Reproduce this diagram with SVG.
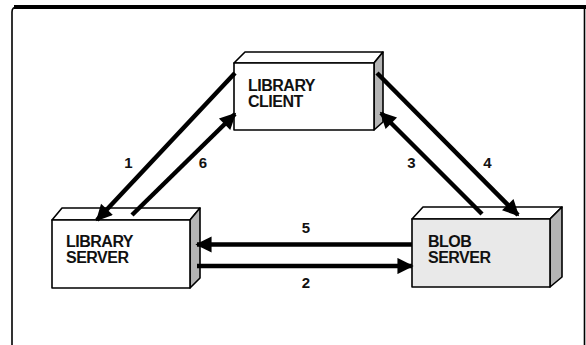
<svg xmlns="http://www.w3.org/2000/svg" width="586" height="345" viewBox="0 0 586 345">
  <style>
    .frame { fill: none; stroke: #000; }
    .face { stroke: #000; stroke-width: 1.6; stroke-linejoin: round; }
    .front { fill: #fff; }
    .front-dot { fill: #e9e9e9; }
    .top { fill: #fff; }
    .side { fill: #b4b4b4; }
    .name { font-family: "Liberation Sans", Arial, sans-serif; font-weight: bold; font-size: 16px; letter-spacing: -0.5px; fill: #111; }
    .num { font-family: "Liberation Sans", Arial, sans-serif; font-weight: bold; font-size: 15px; fill: #111; text-anchor: middle; }
    .wire { stroke: #000; stroke-width: 4.5; fill: none; marker-end: url(#head); }
  </style>
  <defs>
    <marker id="head" viewBox="0 0 10 10" refX="9" refY="5" markerWidth="4.2" markerHeight="3.6" orient="auto" markerUnits="strokeWidth">
      <path d="M0,0 L10,5 L0,10 Z" fill="#000"/>
    </marker>
  </defs>

  <rect width="586" height="345" fill="#fff"/>

  <!-- outer frame -->
  <path class="frame" d="M12,345 V12 Q12,7 17,7 H586" stroke-width="1.6"/>
  <path class="frame" d="M14,7 H586" stroke-width="4"/>
  <path class="frame" d="M584.5,7 V345" stroke-width="1.6"/>

  <!-- library client -->
  <g id="library-client">
    <path class="face top" d="M234,63 L245,52 H383 L374,63 Z"/>
    <path class="face side" d="M374,63 L383,52 V122 L374,130 Z"/>
    <rect class="face front" x="234" y="63" width="140" height="67"/>
    <text class="name" x="248" y="91">LIBRARY</text>
    <text class="name" x="248" y="107">CLIENT</text>
  </g>

  <!-- library server -->
  <g id="library-server">
    <path class="face top" d="M52,220 L62,208 H200 L190,220 Z"/>
    <path class="face side" d="M190,220 L200,208 V278 L190,288 Z"/>
    <rect class="face front" x="52" y="220" width="138" height="68"/>
    <text class="name" x="66" y="247">LIBRARY</text>
    <text class="name" x="66" y="263">SERVER</text>
  </g>

  <!-- blob server -->
  <g id="blob-server">
    <path class="face top" d="M412,219 L423,207 H562 L550,219 Z"/>
    <path class="face side" d="M550,219 L562,207 V277 L550,287 Z"/>
    <rect class="face front-dot" x="412" y="219" width="138" height="68"/>
    <text class="name" x="428" y="247">BLOB</text>
    <text class="name" x="428" y="263">SERVER</text>
  </g>

  <!-- connectors, drawn over the boxes so the heads sit on their faces -->
  <g id="connectors">
    <line class="wire" x1="235" y1="73" x2="97" y2="220"/>
    <line class="wire" x1="132" y1="215" x2="235" y2="114"/>
    <line class="wire" x1="482" y1="214" x2="381" y2="113"/>
    <line class="wire" x1="377" y1="73" x2="518" y2="215"/>
    <line class="wire" x1="412" y1="244.5" x2="197" y2="244.5"/>
    <line class="wire" x1="197" y1="266" x2="412" y2="266"/>
  </g>

  <!-- numbers on connectors -->
  <g id="labels">
    <text class="num" x="128.5" y="168">1</text>
    <text class="num" x="203" y="168">6</text>
    <text class="num" x="411.5" y="168">3</text>
    <text class="num" x="487.5" y="168">4</text>
    <text class="num" x="306" y="233">5</text>
    <text class="num" x="306" y="288">2</text>
  </g>
</svg>
